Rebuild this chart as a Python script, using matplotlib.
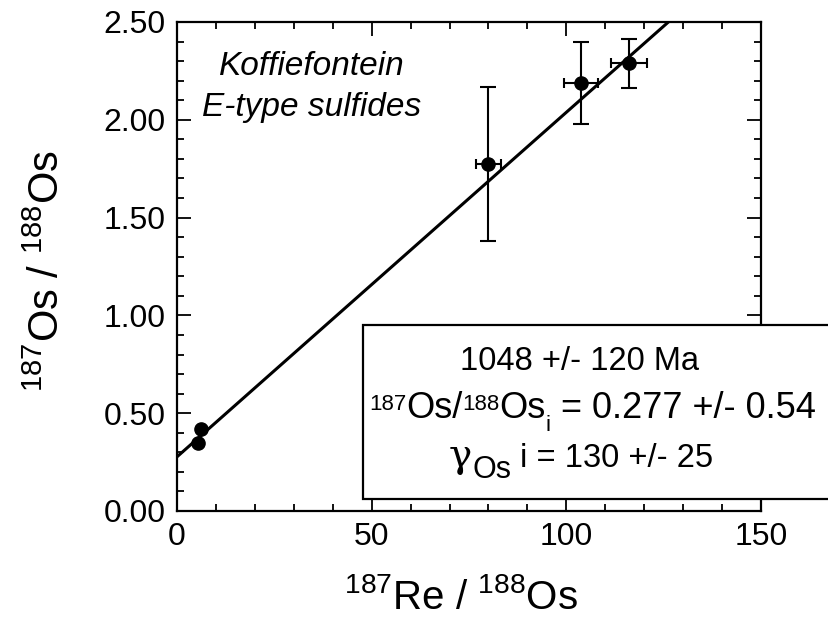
import numpy as np
import matplotlib
matplotlib.use('Agg')
import matplotlib.pyplot as plt
from matplotlib.patches import Rectangle
from matplotlib.ticker import MultipleLocator, FormatStrFormatter

plt.rcParams['font.family'] = ['Liberation Sans', 'DejaVu Sans']
plt.rcParams['mathtext.fontset'] = 'custom'
plt.rcParams['mathtext.rm'] = 'Liberation Sans'
plt.rcParams['mathtext.it'] = 'Liberation Sans:italic'
plt.rcParams['mathtext.bf'] = 'Liberation Sans:bold'

# data
re_os = [5.4, 6.2, 80.0, 103.8, 116.0]
os_os = [0.35, 0.42, 1.775, 2.19, 2.29]
re_err = [0.0, 0.0, 3.2, 4.3, 4.6]
os_err = [0.0, 0.0, 0.395, 0.21, 0.125]
intercept = 0.277
age_ma = 1048
decay_const = 1.666e-11
slope = np.exp(decay_const * age_ma * 1e6) - 1

x_ticks = [0, 50, 100, 150]
y_ticks = [0.0, 0.5, 1.0, 1.5, 2.0, 2.5]

fig = plt.figure(figsize=(8.29, 6.34), dpi=100)
W, H = 829, 634
ax = fig.add_axes([177 / W, 1 - 511 / H, (761 - 177) / W, (511 - 22) / H])

# fit line
xl = np.array([0, 150])
ax.plot(xl, intercept + slope * xl, color='black', lw=2.2, zorder=2)

re_os_a = np.array(re_os)
os_os_a = np.array(os_os)
re_err_a = np.array(re_err)
os_err_a = np.array(os_err)
m = os_err_a > 0
ax.errorbar(re_os_a[m], os_os_a[m], yerr=os_err_a[m], fmt='none', ecolor='black',
            elinewidth=1.5, capsize=6, capthick=1.5, zorder=3)
ax.errorbar(re_os_a[m], os_os_a[m], xerr=re_err_a[m], fmt='none', ecolor='black',
            elinewidth=1.5, capsize=3.5, capthick=1.5, zorder=3)
ax.plot(re_os, os_os, 'o', color='black', markersize=9.5, zorder=4)

ax.set_xlim(0, 150)
ax.set_ylim(0, 2.5)
ax.set_xticks(x_ticks)
ax.set_yticks(y_ticks)
ax.xaxis.set_minor_locator(MultipleLocator(10))
ax.yaxis.set_minor_locator(MultipleLocator(0.1))
ax.yaxis.set_major_formatter(FormatStrFormatter('%.2f'))
ax.tick_params(which='both', direction='in', top=True, right=True, width=1.3,
               labelsize=23, colors='black')
ax.tick_params(which='major', length=10)
ax.tick_params(which='minor', length=5)
ax.tick_params(axis='x', pad=8)
ax.tick_params(axis='y', pad=8)
for s in ax.spines.values():
    s.set_linewidth(1.6)

ax.set_xlabel(r'$^{187}$Re / $^{188}$Os', fontsize=29)
ax.set_ylabel(r'$^{187}$Os / $^{188}$Os', fontsize=30)
ax.xaxis.set_label_coords((461 - 177) / 584, (511 - 578) / 489)
ax.yaxis.set_label_coords((68 - 177) / 584, (511 - 271) / 489)

ax.text(34.7, 2.27, 'Koffiefontein', style='italic', fontsize=24,
        ha='center', va='center')
ax.text(34.7, 2.065, 'E-type sulfides', style='italic', fontsize=24,
        ha='center', va='center')

# results box (extends past the figure edge)
fig.add_artist(Rectangle((363 / W, 1 - 499 / H), 0.7, 174 / H,
                         transform=fig.transFigure, facecolor='white',
                         edgecolor='black', lw=1.6, zorder=10))

renderer = fig.canvas.get_renderer()


def run_text(pieces, x0, base_y):
    """Place text pieces one after another; x0/base_y in pixels from top-left."""
    x = x0
    for txt, size, dy, fam in pieces:
        kw = dict(fontsize=size, ha='left', va='baseline', zorder=11)
        if fam:
            kw['family'] = fam
        t = fig.text(x / W, 1 - (base_y - dy) / H, txt, **kw)
        bb = t.get_window_extent(renderer=renderer)
        x += bb.width


line1 = '1048 +/- 120 Ma'
fig.text(580 / W, 1 - 370 / H, line1, fontsize=23.5, ha='center',
         va='baseline', zorder=11)

line2 = [('187', 16, 8, None), ('Os/', 26, 0, None), ('188', 16, 8, None),
         ('Os', 26, 0, None), ('i', 16, -13, None),
         (' = 0.277 +/- 0.54', 26, 0, None)]
run_text(line2, 369, 418)

line3 = [('γ', 28, 0, 'DejaVu Serif'), ('Os', 22, -11, None),
         (' i = 130 +/- 25', 23.5, 0, None)]
run_text(line3, 449, 467)

fig.savefig('out.png', dpi=100)
